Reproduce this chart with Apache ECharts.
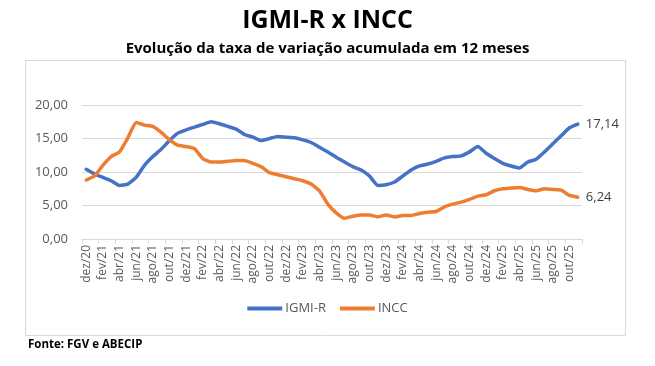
<!DOCTYPE html>
<html>
<head>
<meta charset="utf-8">
<script src="https://cdn.jsdelivr.net/npm/echarts@6/dist/echarts.min.js"></script>
<style>
html,body{margin:0;padding:0;background:#fff;}
#chart{width:655px;height:366px;}
</style>
</head>
<body>
<div id="chart"></div>
<script>
const categories = ['dez/20',
 'jan/21','fev/21','mar/21','abr/21','mai/21','jun/21','jul/21','ago/21','set/21','out/21','nov/21','dez/21',
 'jan/22','fev/22','mar/22','abr/22','mai/22','jun/22','jul/22','ago/22','set/22','out/22','nov/22','dez/22',
 'jan/23','fev/23','mar/23','abr/23','mai/23','jun/23','jul/23','ago/23','set/23','out/23','nov/23','dez/23',
 'jan/24','fev/24','mar/24','abr/24','mai/24','jun/24','jul/24','ago/24','set/24','out/24','nov/24','dez/24',
 'jan/25','fev/25','mar/25','abr/25','mai/25','jun/25','jul/25','ago/25','set/25','out/25','nov/25'];

const igmiR = [10.4, 9.7, 9.2, 8.7, 8.0, 8.2, 9.2, 11.0, 12.3, 13.4, 14.7, 15.8, 16.3,
  16.7, 17.1, 17.5, 17.2, 16.8, 16.4, 15.6, 15.2, 14.7, 15.0, 15.3, 15.2,
  15.1, 14.8, 14.4, 13.7, 13.0, 12.2, 11.5, 10.8, 10.3, 9.4, 8.0, 8.1,
  8.5, 9.4, 10.3, 10.9, 11.2, 11.6, 12.1, 12.3, 12.4, 13.0, 13.8, 12.8,
  12.0, 11.3, 10.9, 10.6, 11.5, 11.9, 13.0, 14.2, 15.4, 16.6, 17.14];

const incc = [8.8, 9.4, 11.0, 12.3, 13.0, 15.1, 17.4, 17.0, 16.8, 15.9, 14.8, 14.0, 13.8,
  13.5, 12.0, 11.5, 11.5, 11.6, 11.7, 11.7, 11.3, 10.8, 9.9, 9.6, 9.3,
  9.0, 8.7, 8.2, 7.2, 5.2, 3.9, 3.1, 3.4, 3.6, 3.6, 3.3, 3.6,
  3.3, 3.5, 3.5, 3.8, 4.0, 4.1, 4.8, 5.2, 5.5, 5.9, 6.4, 6.6,
  7.2, 7.5, 7.6, 7.7, 7.4, 7.2, 7.5, 7.4, 7.3, 6.5, 6.24];

const yTicks = [0, 5, 10, 15, 20];
const seriesNames = ['IGMI-R', 'INCC'];
const colors = ['#4472C4', '#ED7D31'];

const fmt = v => v.toFixed(2).replace('.', ',');
const FONT = '"Open Sans", "Noto Sans", sans-serif';

const chart = echarts.init(document.getElementById('chart'), null, {renderer: 'canvas'});

function mkSeries(name, data, color) {
  return {
    name: name,
    type: 'line',
    data: data,
    symbol: 'none',
    smooth: 0.15,
    lineStyle: {width: 3.5, color: color, cap: 'round', join: 'round'},
    itemStyle: {color: color},
    endLabel: {
      show: true,
      distance: 8,
      color: '#404040',
      fontSize: 13,
      fontFamily: FONT,
      formatter: p => fmt(p.value)
    },
    emphasis: {disabled: true}
  };
}

chart.setOption({
  animation: false,
  backgroundColor: '#fff',
  title: [
    {text: 'IGMI-R x INCC', left: 'center', top: 3,
     textStyle: {fontSize: 25, fontWeight: 'bold', color: '#000', fontFamily: FONT}},
    {text: 'Evolução da taxa de variação acumulada em 12 meses', left: 'center', top: 36,
     textStyle: {fontSize: 15, fontWeight: 'bold', color: '#000', fontFamily: FONT}},
    {text: 'Fonte: FGV e ABECIP', left: 23, top: 334,
     textStyle: {fontSize: 11.5, fontWeight: 'bold', color: '#000', fontFamily: FONT}}
  ],
  graphic: [{
    type: 'rect', left: 23, top: 58, silent: true,
    shape: {width: 600, height: 275},
    style: {fill: 'none', stroke: '#d9d9d9', lineWidth: 1}
  }],
  legend: {
    data: seriesNames,
    bottom: 46,
    left: 'center',
    icon: 'rect',
    itemWidth: 35,
    itemHeight: 4,
    itemGap: 14,
    textStyle: {fontSize: 13, color: '#595959', fontFamily: FONT, padding: [0, 0, 0, -2]}
  },
  grid: {left: 82, right: 73, top: 105, bottom: 127},
  xAxis: {
    type: 'category',
    data: categories,
    boundaryGap: true,
    axisLine: {lineStyle: {color: '#d9d9d9', width: 1}},
    axisTick: {show: true, interval: 1, length: 5, lineStyle: {color: '#d9d9d9'}},
    axisLabel: {interval: 1, rotate: 90, fontSize: 12, color: '#595959', fontFamily: FONT, margin: 6}
  },
  yAxis: {
    type: 'value',
    min: yTicks[0],
    max: yTicks[yTicks.length - 1],
    interval: 5,
    axisLine: {show: false},
    axisTick: {show: false},
    splitLine: {lineStyle: {color: '#d9d9d9', width: 1}},
    axisLabel: {fontSize: 13, color: '#595959', fontFamily: FONT, margin: 14, formatter: v => fmt(v)}
  },
  series: [
    mkSeries(seriesNames[0], igmiR, colors[0]),
    mkSeries(seriesNames[1], incc, colors[1])
  ]
});
</script>
</body>
</html>
